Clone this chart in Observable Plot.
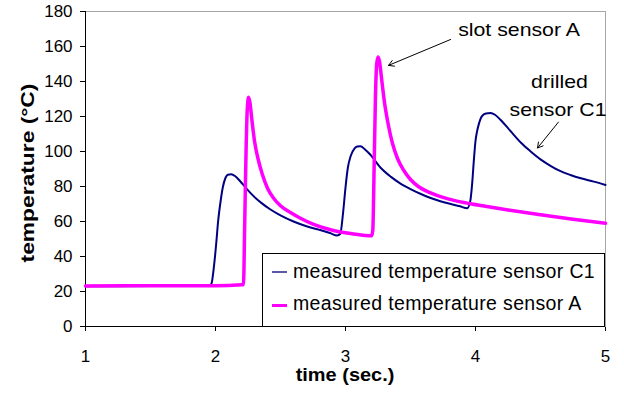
<!DOCTYPE html>
<html><head><meta charset="utf-8">
<script src="https://cdn.jsdelivr.net/npm/d3@7"></script>
<script src="https://cdn.jsdelivr.net/npm/@observablehq/plot@0.6"></script>
<style>
html,body{margin:0;padding:0;background:#fff;}
#wrap{position:relative;width:624px;height:394px;overflow:hidden;}
#legend{position:absolute;left:262px;top:253px;width:341px;height:72px;border:1px solid #000;background:#fff;font-family:"Liberation Sans",Arial,sans-serif;font-size:19.5px;color:#000;}
.txt{position:absolute;left:30px;white-space:nowrap;line-height:22px;letter-spacing:0.35px;}
.sw{position:absolute;left:9px;width:15px;}
</style></head>
<body><div id="wrap"></div>
<script>
// ---- data ----
const seriesNames = ["measured temperature sensor C1", "measured temperature sensor A"];
const seriesColors = ["#000080", "#ff00ff"];

const timeC1 = [1.0, 1.5, 1.95, 1.969, 1.987, 2.005, 2.02, 2.04, 2.056, 2.077, 2.095, 2.12, 2.15, 2.19, 2.23, 2.27, 2.31, 2.35, 2.42, 2.5, 2.6, 2.7, 2.8, 2.88, 2.936, 2.96, 2.98, 3.0, 3.018, 3.04, 3.07, 3.09, 3.115, 3.15, 3.19, 3.27, 3.35, 3.42, 3.5, 3.58, 3.65, 3.73, 3.81, 3.88, 3.936, 3.96, 3.974, 3.987, 4.0, 4.012, 4.025, 4.05, 4.08, 4.115, 4.15, 4.19, 4.27, 4.35, 4.42, 4.5, 4.58, 4.65, 4.73, 4.81, 4.91, 5.0];
const tempC1 = [23, 23.1, 23.2, 24.5, 33.6, 47, 60, 72, 79.4, 85, 86.7, 87, 86, 83, 79.5, 76.2, 73.3, 70.8, 67, 63.5, 60, 57.3, 55.2, 53.4, 52, 53, 64, 79.4, 90.7, 97.4, 101.8, 102.8, 103, 101.2, 98.3, 90.7, 85.5, 81.8, 78.5, 75.7, 73.6, 71.6, 70, 68.7, 67.6, 71.8, 81.4, 94.6, 106, 111.5, 115.5, 120.2, 121.7, 122, 121, 118.3, 111.6, 105, 100.3, 95.5, 91.7, 88.9, 86.6, 84.7, 82.8, 80.9];

const timeA = [1.0, 1.5, 2.0, 2.2, 2.215, 2.225, 2.235, 2.245, 2.255, 2.265, 2.28, 2.30, 2.33, 2.36, 2.40, 2.45, 2.50, 2.58, 2.65, 2.75, 2.85, 2.96, 3.05, 3.15, 3.20, 3.21, 3.22, 3.23, 3.24, 3.25, 3.26, 3.28, 3.30, 3.33, 3.36, 3.40, 3.45, 3.50, 3.56, 3.65, 3.75, 3.85, 3.95, 4.1, 4.25, 4.5, 4.75, 5.0];
const tempA = [23.2, 23.3, 23.3, 23.8, 24, 60, 100, 125, 131, 128, 118, 106, 95, 87, 79, 73, 69, 65, 62, 58.5, 56, 54, 53, 52, 51.8, 55, 90, 130, 150, 154, 152, 140, 128, 115, 105, 96, 89, 84, 80, 76.5, 73.8, 71.8, 70.3, 68.4, 66.6, 63.8, 61.3, 59];

const xTicks = [1, 2, 3, 4, 5];
const yTicks = [0, 20, 40, 60, 80, 100, 120, 140, 160, 180];
const xTitle = "time (sec.)";
const yTitle = "temperature (°C)";

const annoLabels = ["slot sensor A", "drilled", "sensor C1"];
const annoX = [4.335, 4.646, 4.635];
const annoY = [169.2, 139.6, 123.6];
const arrowX1 = [3.808, 4.638];
const arrowY1 = [164.0, 116.8];
const arrowX2 = [3.331, 4.477];
const arrowY2 = [149.2, 102.0];

// ---- tables ----
const c1Rows = timeC1.map((t, i) => ({t, v: tempC1[i]}));
const aRows = timeA.map((t, i) => ({t, v: tempA[i]}));
const annoRows = annoLabels.map((label, i) => ({label, x: annoX[i], y: annoY[i]}));
const arrowRows = arrowX1.map((x1, i) => ({x1, y1: arrowY1[i], x2: arrowX2[i], y2: arrowY2[i]}));

const font = '"Liberation Sans", Arial, sans-serif';
const plot = Plot.plot({
  width: 624, height: 394,
  marginLeft: 85, marginRight: 19, marginTop: 11, marginBottom: 68,
  style: {fontFamily: font, fontSize: "16px", color: "#000", background: "#fff", overflow: "visible"},
  x: {domain: [1, 5], ticks: xTicks, tickSize: 5, tickPadding: 19, label: null, tickFormat: d => String(d)},
  y: {domain: [0, 180], ticks: yTicks, tickSize: 5, tickPadding: 8, label: null, tickFormat: d => String(d)},
  marks: [
    Plot.frame({stroke: "#a6a6a6"}),
    Plot.ruleX([1], {stroke: "#000"}),
    Plot.ruleY([0], {stroke: "#000"}),
    Plot.line(c1Rows, {x: "t", y: "v", stroke: seriesColors[0], strokeWidth: 2, curve: "monotone-x"}),
    Plot.line(aRows, {x: "t", y: "v", stroke: seriesColors[1], strokeWidth: 3.5, curve: "monotone-x"}),
    Plot.arrow(arrowRows, {x1: "x1", y1: "y1", x2: "x2", y2: "y2", stroke: "#000", strokeWidth: 1, headLength: 9}),
    Plot.text(annoRows, {x: "x", y: "y", text: "label", fontSize: 18.5, fill: "#000"}),
    Plot.text([xTitle], {text: d => d, frameAnchor: "bottom", dy: 53, fontWeight: "bold", fontSize: 19, fill: "#000"}),
    Plot.text([yTitle], {text: d => d, frameAnchor: "left", dx: -57, rotate: -90, fontWeight: "bold", fontSize: 19, fill: "#000"})
  ]
});

const wrap = document.getElementById("wrap");
wrap.appendChild(plot);

// stretch text horizontally to mimic the original rendering
function stretch(nodes, f) {
  nodes.forEach(n => {
    const L = n.getComputedTextLength();
    if (L > 0) {
      n.setAttribute("textLength", (L * f).toFixed(2));
      n.setAttribute("lengthAdjust", "spacingAndGlyphs");
    }
  });
}
// move a text so that its box centre lands on (cx, cy) in page pixels
function centerAt(n, cx, cy) {
  const w = wrap.getBoundingClientRect();
  const r = n.getBoundingClientRect();
  const ddx = cx - (r.left - w.left + r.width / 2);
  const ddy = cy - (r.top - w.top + r.height / 2);
  const t = n.getAttribute("transform") || "";
  n.setAttribute("transform", `translate(${ddx.toFixed(2)},${ddy.toFixed(2)}) ${t}`);
}
const svg = d3.select(plot);
stretch(svg.selectAll('g[aria-label="x-axis tick label"] text').nodes(), 1.06);
stretch(svg.selectAll('g[aria-label="y-axis tick label"] text').nodes(), 1.06);
const textGroups = svg.selectAll('g[aria-label="text"]').nodes();
if (textGroups[0]) stretch(Array.from(textGroups[0].querySelectorAll("text")), 1.15);
if (textGroups[1]) {
  const nodes = Array.from(textGroups[1].querySelectorAll("text"));
  stretch(nodes, 1.05);
  nodes.forEach(n => centerAt(n, 345, 374));
}
if (textGroups[2]) {
  const nodes = Array.from(textGroups[2].querySelectorAll("text"));
  stretch(nodes, 1.2);
  nodes.forEach(n => centerAt(n, 27, 173));
}

// legend
const legend = document.createElement("div");
legend.id = "legend";
const rows = [
  {swTop: 17, swH: 1.6, color: "#5a5aa8", txtTop: 6.3},
  {swTop: 49.5, swH: 3.2, color: seriesColors[1], txtTop: 38.3}
];
rows.forEach((r, i) => {
  const sw = document.createElement("div");
  sw.className = "sw";
  sw.style.top = r.swTop + "px";
  sw.style.height = r.swH + "px";
  sw.style.background = r.color;
  legend.appendChild(sw);
  const tx = document.createElement("div");
  tx.className = "txt";
  tx.style.top = r.txtTop + "px";
  tx.textContent = seriesNames[i];
  legend.appendChild(tx);
});
wrap.appendChild(legend);
</script>
</body></html>
